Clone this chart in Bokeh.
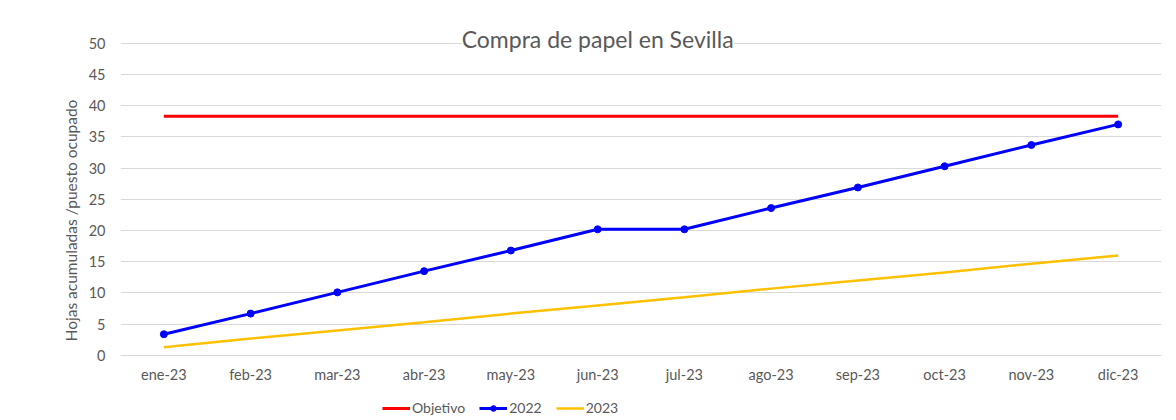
from bokeh.plotting import figure
from bokeh.models import Range1d, FixedTicker, Label, Legend, LegendItem
from bokeh.embed import file_html
from bokeh.resources import INLINE

months = ["ene-23", "feb-23", "mar-23", "abr-23", "may-23", "jun-23",
          "jul-23", "ago-23", "sep-23", "oct-23", "nov-23", "dic-23"]
objetivo = [38.3] * 12
serie_2022 = [3.4, 6.7, 10.1, 13.5, 16.8, 20.2, 20.2, 23.6, 26.9, 30.3, 33.7, 37.0]
serie_2023 = [1.3, 2.7, 4.0, 5.3, 6.7, 8.0, 9.3, 10.7, 12.0, 13.3, 14.7, 16.0]
title_text = "Compra de papel en Sevilla"
y_label = "Hojas acumuladas /puesto ocupado"

FONT = "Lato"
GREY = "#595959"
xs = list(range(len(months)))

p = figure(width=1168, height=416, output_backend="svg", toolbar_location=None,
           x_range=Range1d(-0.5, len(months) - 0.5), y_range=Range1d(-9.78, 53),
           min_border_left=120, min_border_right=7, min_border_top=24, min_border_bottom=0)
p.outline_line_color = None
p.background_fill_color = "white"
p.border_fill_color = "white"

r_obj = p.line(xs, objetivo, line_color="#FF0000", line_width=3)
r22 = p.line(xs, serie_2022, line_color="#0000FF", line_width=3)
r22c = p.scatter(xs, serie_2022, size=7, fill_color="#0000FF", line_color="#0000FF")
r23 = p.line(xs, serie_2023, line_color="#FFC000", line_width=2.5)

p.xaxis.ticker = FixedTicker(ticks=xs)
p.xaxis.major_label_overrides = {i: m for i, m in enumerate(months)}
p.xaxis.fixed_location = 0
p.yaxis.ticker = FixedTicker(ticks=list(range(0, 51, 5)))

p.xgrid.grid_line_color = None
p.ygrid.grid_line_color = "#d9d9d9"
p.ygrid.grid_line_width = 1

for ax in (p.xaxis, p.yaxis):
    ax.major_tick_line_color = None
    ax.minor_tick_line_color = None
    ax.major_tick_out = 0
    ax.major_tick_in = 0
    ax.minor_tick_out = 0
    ax.major_label_text_font = FONT
    ax.major_label_text_font_size = "14.5px"
    ax.major_label_text_color = GREY
p.yaxis.axis_line_color = None
p.xaxis.axis_line_color = "#d9d9d9"
p.xaxis.major_label_standoff = 11
p.yaxis.major_label_standoff = 15
p.yaxis.axis_label = y_label
p.yaxis.axis_label_text_font = FONT
p.yaxis.axis_label_text_font_size = "15.5px"
p.yaxis.axis_label_text_font_style = "normal"
p.yaxis.axis_label_text_color = GREY
p.yaxis.axis_label_standoff = 6

title = Label(x=5, y=50.6, text=title_text, text_align="center", text_baseline="middle",
              text_font=FONT, text_font_size="23px", text_color=GREY,
              background_fill_color="white", background_fill_alpha=1.0)
p.add_layout(title)

legend = Legend(items=[
    LegendItem(label="Objetivo", renderers=[r_obj]),
    LegendItem(label="2022", renderers=[r22, r22c]),
    LegendItem(label="2023", renderers=[r23]),
], orientation="horizontal", location=(262, 0))
legend.label_text_font = FONT
legend.label_text_font_size = "14px"
legend.label_text_color = GREY
legend.glyph_width = 28
legend.glyph_height = 14
legend.label_standoff = 2
legend.spacing = 14
legend.padding = 0
legend.margin = 0
legend.border_line_color = None
legend.background_fill_alpha = 0
p.add_layout(legend, "center")

open("out.html", "w").write(file_html(p, INLINE))
